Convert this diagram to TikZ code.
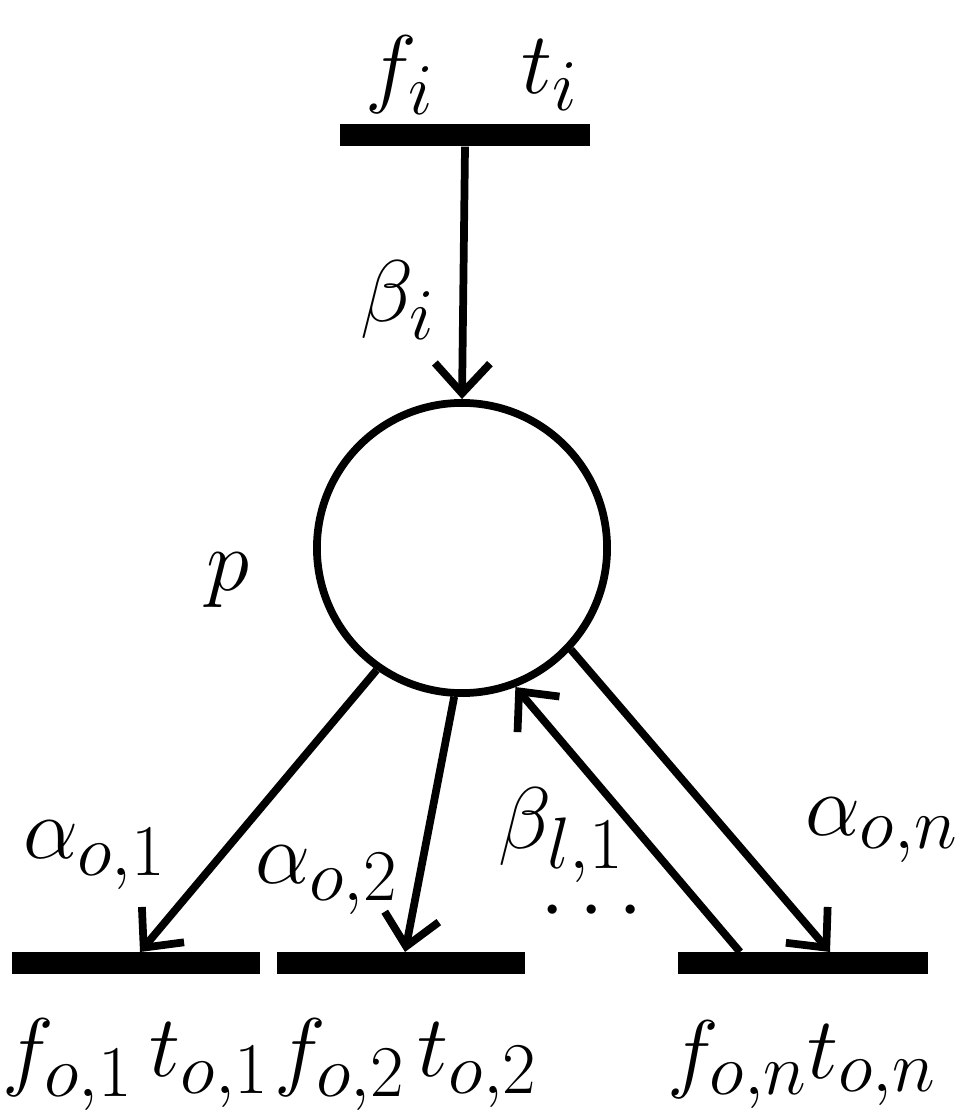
\documentclass[tikz,border=0pt]{standalone}
\usetikzlibrary{arrows.meta}
\usepackage{fontspec}
\setmainfont{Liberation Serif}
\begin{document}
\begin{tikzpicture}[x=0.01cm,y=-0.01cm,
  bar/.style={fill=black,draw=none,minimum height=0.22cm,inner sep=0},
  arr/.style={line width=2.2pt,-{Straight Barb[length=0.3cm,width=0.55cm,line width=2.2pt]}},
  lab/.style={inner sep=0,font=\fontsize{28}{34}\selectfont}]
\useasboundingbox (0,0) rectangle (963,1116);
\node[bar,minimum width=2.5cm] (top) at (465,135) {};
\node[circle,draw,line width=2.2pt,minimum size=2.9cm,inner sep=0] (p) at (462,548) {};
\node[bar,minimum width=2.48cm] (b1) at (136,963) {};
\node[bar,minimum width=2.48cm] (b2) at (401,963) {};
\node[bar,minimum width=2.5cm] (b3) at (803,963) {};
\draw[arr] (top.south) -- (p.north);
\coordinate (s1) at (140,952); \coordinate (s2) at (405,952);
\coordinate (s3) at (740,952); \coordinate (s4) at (830,952);
\draw[arr] (p.235) -- (s1);
\draw[arr] (p.267) -- (s2);
\draw[arr] (s3) -- (p.291);
\draw[arr] (p.317) -- (s4);
\node[lab] at (400,75) {$f_i$};
\node[lab] at (550,75) {$t_i$};
\node[lab] at (398,300) {$\beta_i$};
\node[inner sep=0,font=\fontsize{56}{64}\selectfont] at (228,580) {$p$};
\node[lab] at (95,855) {$\alpha_{o,1}$};
\node[lab] at (327,880) {$\alpha_{o,2}$};
\node[lab] at (562,835) {$\beta_{l,1}$};
\node[lab] at (882,830) {$\alpha_{o,n}$};
\node[lab] (dots) at (592,912) {$\cdots$};
\node[lab] at (68,1065) {$f_{o,1}$};
\node[lab] at (210,1065) {$t_{o,1}$};
\node[lab] at (340,1065) {$f_{o,2}$};
\node[lab] at (478,1065) {$t_{o,2}$};
\node[lab] at (738,1065) {$f_{o,n}$};
\node[lab] at (872,1065) {$t_{o,n}$};
\end{tikzpicture}
\end{document}
